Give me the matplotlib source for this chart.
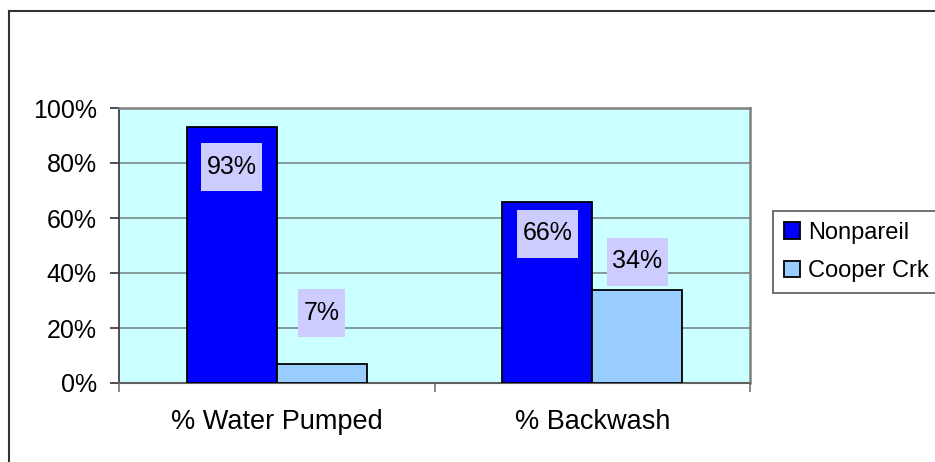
import matplotlib
matplotlib.use("Agg")
import matplotlib.pyplot as plt
import numpy as np
from matplotlib.lines import Line2D
from matplotlib.patches import Rectangle
from matplotlib.ticker import FixedLocator

categories = ["% Water Pumped", "% Backwash"]
series_names = ["Nonpareil", "Cooper Crk"]
nonpareil = [93, 66]
cooper = [7, 34]
yticks = [0, 20, 40, 60, 80, 100]
ytick_labels = ["0%", "20%", "40%", "60%", "80%", "100%"]

W, H = 935, 462
DPI = 100
plt.rcParams['font.family'] = ['Liberation Sans', 'DejaVu Sans']

fig = plt.figure(figsize=(W / DPI, H / DPI), dpi=DPI)
fig.patch.set_facecolor('white')

ax = fig.add_axes([119 / W, 1 - 383 / H, (750 - 119) / W, (383 - 108) / H])
ax.set_facecolor('#CCFFFF')

x = np.arange(len(categories))
bw = 90 / 315.5
colors = ['#0000FF', '#99CCFF']
series = [nonpareil, cooper]
bars = []
for i, (vals, col, name) in enumerate(zip(series, colors, series_names)):
    b = ax.bar(x + (i - 0.5) * bw, vals, width=bw, color=col, edgecolor='black',
               linewidth=1.3, label=name, zorder=3)
    bars.append(b)

ax.set_xlim(-0.5, 1.5)
ax.set_ylim(0, 100)
ax.set_yticks(yticks)
ax.set_yticklabels(ytick_labels, fontsize=18)
ax.yaxis.grid(True, color='#708080', linewidth=1.1, zorder=1)
ax.set_axisbelow(True)

ax.set_xticks(x)
ax.set_xticklabels(categories, fontsize=19.5)
ax.tick_params(axis='x', length=0, pad=19)
ax.xaxis.set_minor_locator(FixedLocator([-0.5, 0.5, 1.5]))
ax.tick_params(axis='x', which='minor', length=6.5, color='#808080', width=1.3)
ax.tick_params(axis='y', length=6.5, color='#404040', width=1.3, pad=9.4)

for side in ['top', 'right']:
    ax.spines[side].set_color('#808080')
    ax.spines[side].set_linewidth(1.8)
ax.spines['left'].set_color('#404040')
ax.spines['left'].set_linewidth(1.3)
ax.spines['bottom'].set_color('#606060')
ax.spines['bottom'].set_linewidth(1.5)

# data labels (offsets in pixels relative to bar tops)
label_offsets = [[-40, -32], [51, 28]]
texts = []
for si, (b, vals) in enumerate(zip(bars, series)):
    for ci, (rect, v) in enumerate(zip(b, vals)):
        cx = rect.get_x() + rect.get_width() / 2
        t = ax.annotate(f"{v}%", (cx, v), xytext=(0, label_offsets[si][ci]),
                        textcoords='offset pixels', ha='center', va='center',
                        fontsize=18, color='black', zorder=6)
        texts.append(t)

fig.canvas.draw()
renderer = fig.canvas.get_renderer()
for t in texts:
    bb = t.get_window_extent(renderer)
    cxp = (bb.x0 + bb.x1) / 2
    cyp = (bb.y0 + bb.y1) / 2
    wpx = bb.width + 11
    hpx = 48
    r = Rectangle((cxp - wpx / 2, cyp - hpx / 2), wpx, hpx, transform=None,
                  facecolor='#CCCCFF', edgecolor='none', zorder=5)
    r.set_clip_on(False)
    fig.add_artist(r)
    t.remove()
    fig.text(cxp / W, cyp / H, t.get_text(), ha='center', va='center',
             fontsize=18, color='black', zorder=7)

leg = fig.legend(handles=[b for b in bars], labels=series_names,
                 loc='upper left', bbox_to_anchor=(773 / W, 1 - 211 / H),
                 fontsize=17, frameon=True, fancybox=False, shadow=False,
                 handlelength=0.7, handleheight=0.7, handletextpad=0.35,
                 borderpad=0.45, labelspacing=0.7, borderaxespad=0)
leg.get_frame().set_edgecolor('#404040')
leg.get_frame().set_linewidth(1.3)

# outer chart frame
fig.add_artist(Line2D([8.5 / W, 8.5 / W], [1 - 10.5 / H, 0], transform=fig.transFigure,
                      color='#333333', linewidth=1.5))
fig.add_artist(Line2D([8.5 / W, 1], [1 - 10.5 / H, 1 - 10.5 / H], transform=fig.transFigure,
                      color='#333333', linewidth=1.5))

fig.savefig('out.png', dpi=DPI)
